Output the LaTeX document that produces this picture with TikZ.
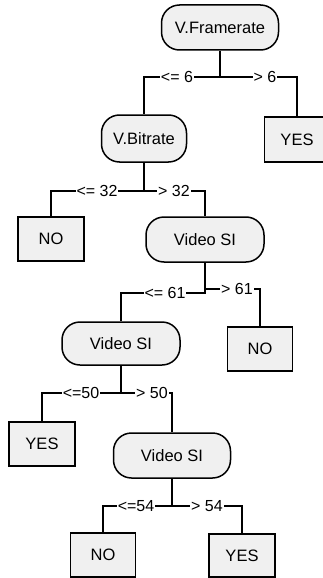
\documentclass[tikz,border=0pt]{standalone}
\usepackage{fontspec}
\setmainfont{Liberation Sans}
\definecolor{boxfill}{HTML}{F0F0F0}
\tikzset{
  base/.style={draw=black, line width=1.5pt, fill=boxfill, inner sep=0pt,
    font=\fontsize{16.5}{19}\selectfont},
  decision/.style={base, rectangle, rounded corners=18pt},
  leaf/.style={base, rectangle},
  edgelbl/.style={fill=white, inner sep=1pt, font=\fontsize{16}{19}\selectfont},
  conn/.style={draw=black, line width=1.5pt}
}
\begin{document}
\begin{tikzpicture}[x=1pt,y=-1pt]
\path[use as bounding box] (0,0) rectangle (322,578);
% nodes
\node[decision, minimum width=117pt, minimum height=45pt] (fr) at (220,27.5) {V.Framerate};
\node[decision, minimum width=85pt, minimum height=47pt] (br) at (144,138.5) {V.Bitrate};
\node[leaf, minimum width=65pt, minimum height=45pt] (yes1) at (297,139.5) {YES};
\node[leaf, minimum width=66pt, minimum height=44pt] (no1) at (51,239) {NO};
\node[decision, minimum width=118pt, minimum height=45pt] (vs1) at (205,239.5) {Video SI};
\node[leaf, minimum width=65pt, minimum height=44pt] (no2) at (260,349) {NO};
\node[decision, minimum width=118pt, minimum height=43pt] (vs2) at (121,343.5) {Video SI};
\node[leaf, minimum width=66pt, minimum height=44pt] (yes2) at (42,444) {YES};
\node[decision, minimum width=117pt, minimum height=45pt] (vs3) at (172,455.5) {Video SI};
\node[leaf, minimum width=65pt, minimum height=44pt] (no3) at (103,555) {NO};
\node[leaf, minimum width=66pt, minimum height=43pt] (yes3) at (242,555.5) {YES};
% junctions
\coordinate (j1) at (220,77);
\coordinate (j2) at (144,191);
\coordinate (j3) at (205,293);
\coordinate (j3r) at (205,289);
\coordinate (j4) at (121,393);
\coordinate (j5) at (172,506);
% connectors
\draw[conn] (fr.south) -- (j1) -| (br.north);
\draw[conn] (j1) -| (yes1.north);
\draw[conn] (br.south) -- (j2) -| (no1.north);
\draw[conn] (j2) -| (vs1.north);
\draw[conn] (vs1.south) -- (j3) -| (vs2.north);
\draw[conn] (j3r) -| (no2.north);
\draw[conn] (vs2.south) -- (j4) -| (yes2.north);
\draw[conn] (j4) -| (vs3.north);
\draw[conn] (vs3.south) -- (j5) -| (no3.north);
\draw[conn] (j5) -| (yes3.north);
% labels
\node[edgelbl] (l1a) at (177,77) {<= 6};
\node[edgelbl] (l1b) at (265,77) {> 6};
\node[edgelbl] (l2a) at (97,191) {<= 32};
\node[edgelbl] (l2b) at (174,191) {> 32};
\node[edgelbl] (l3a) at (165,293) {<= 61};
\node[edgelbl] (l3b) at (237,289) {> 61};
\node[edgelbl] (l4a) at (81,393) {<=50};
\node[edgelbl] (l4b) at (152,393) {> 50};
\node[edgelbl] (l5a) at (136,506) {<=54};
\node[edgelbl] (l5b) at (207,506) {> 54};
\end{tikzpicture}
\end{document}
